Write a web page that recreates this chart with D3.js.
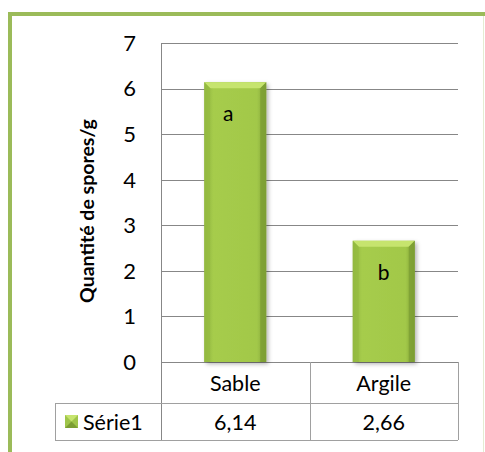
<!DOCTYPE html>
<html>
<head>
<meta charset="utf-8">
<script src="https://cdn.jsdelivr.net/npm/d3@7"></script>
<style>
  body { margin: 0; background: #fff; }
  text { font-family: Lato, "Open Sans", sans-serif; fill: #000; }
</style>
</head>
<body>
<div id="wrapper"></div>
<script>
// data
const categories = ["Sable", "Argile"]
const values = [6.14, 2.66]
const valueLabels = ["6,14", "2,66"]
const letters = ["a", "b"]
const seriesName = "Série1"
const yTicks = [0, 1, 2, 3, 4, 5, 6, 7]

const width = 485
const height = 452
const plot = { left: 161, right: 458, top: 43, bottom: 362 }

const svg = d3.select("#wrapper").append("svg")
    .attr("width", width)
    .attr("height", height)

// gradients for bars
const defs = svg.append("defs")
const grad = defs.append("linearGradient").attr("id", "barGrad")
    .attr("x1", 0).attr("x2", 1).attr("y1", 0).attr("y2", 0)
grad.append("stop").attr("offset", "0%").attr("stop-color", "#8fb43e")
grad.append("stop").attr("offset", "15%").attr("stop-color", "#a6cc4c")
grad.append("stop").attr("offset", "85%").attr("stop-color", "#a2c849")
grad.append("stop").attr("offset", "100%").attr("stop-color", "#7fa136")
const filt = defs.append("filter").attr("id", "shadow").attr("x", "-20%").attr("y", "-10%").attr("width", "150%").attr("height", "130%")
filt.append("feDropShadow").attr("dx", 2).attr("dy", 2).attr("stdDeviation", 2).attr("flood-color", "#000").attr("flood-opacity", 0.3)

// frame
svg.append("rect").attr("x", 10).attr("y", 14).attr("width", 490).attr("height", 460)
    .attr("fill", "none").attr("stroke", "#9bbb59").attr("stroke-width", 4)
svg.append("line").attr("x1", 483.5).attr("x2", 483.5).attr("y1", 16).attr("y2", height)
    .attr("stroke", "#e4ecd2").attr("stroke-width", 1)

// scales
const xScale = d3.scaleBand().domain(categories).range([plot.left, plot.right])
const yScale = d3.scaleLinear().domain([0, 7]).range([plot.bottom, plot.top])

// gridlines
svg.append("g").selectAll("line").data(yTicks).join("line")
    .attr("x1", plot.left).attr("x2", plot.right)
    .attr("y1", d => Math.round(yScale(d)) + 0.5).attr("y2", d => Math.round(yScale(d)) + 0.5)
    .attr("stroke", "#878787").attr("stroke-width", 1)

// y axis line
svg.append("line").attr("x1", plot.left + 0.5).attr("x2", plot.left + 0.5)
    .attr("y1", plot.top).attr("y2", 440)
    .attr("stroke", "#878787")

// y tick labels
svg.append("g").selectAll("text").data(yTicks).join("text")
    .attr("x", 136).attr("y", d => yScale(d))
    .attr("dy", "0.36em")
    .attr("text-anchor", "end")
    .style("font-size", "22px")
    .text(d => d)

// y title
svg.append("text")
    .attr("transform", `translate(94, 211) rotate(-90)`)
    .attr("text-anchor", "middle")
    .style("font-size", "19.5px")
    .style("font-weight", "bold")
    .text("Quantité de spores/g")

// bars
const barW = 62
const bars = svg.append("g").selectAll("g").data(categories).join("g")
bars.each(function (c, i) {
    const g = d3.select(this)
    const x0 = xScale(c) + xScale.bandwidth() / 2 - barW / 2
    const y0 = yScale(values[i])
    const y1 = yScale(0)
    const b = 6
    g.append("rect").attr("x", x0).attr("y", y0).attr("width", barW).attr("height", y1 - y0)
        .attr("fill", "url(#barGrad)").attr("filter", "url(#shadow)")
    // bevel top
    g.append("polygon")
        .attr("points", `${x0},${y0} ${x0 + barW},${y0} ${x0 + barW - b},${y0 + b} ${x0 + b},${y0 + b}`)
        .attr("fill", "#c6e46e")
    // bevel left
    g.append("polygon")
        .attr("points", `${x0},${y0} ${x0 + b},${y0 + b} ${x0 + b},${y1} ${x0},${y1}`)
        .attr("fill", "#94bb40").attr("opacity", 0.7)
    // bevel right
    g.append("polygon")
        .attr("points", `${x0 + barW},${y0} ${x0 + barW - b},${y0 + b} ${x0 + barW - b},${y1} ${x0 + barW},${y1}`)
        .attr("fill", "#7c9e33").attr("opacity", 0.8)
    g.append("text")
        .attr("x", x0 + barW / 2 - (i === 0 ? 7 : 0))
        .attr("y", y0 + 39)
        .attr("text-anchor", "middle")
        .style("font-size", "21px")
        .text(letters[i])
})

// data table
const tableStroke = "#a0a0a0"
const rowTop = plot.bottom, rowMid = 403, rowBot = 440, legLeft = 55
const table = svg.append("g").attr("fill", "none").attr("stroke", tableStroke)
table.append("line").attr("x1", plot.left).attr("x2", plot.right).attr("y1", rowMid + 0.5).attr("y2", rowMid + 0.5)
table.append("line").attr("x1", legLeft).attr("x2", plot.right).attr("y1", rowBot + 0.5).attr("y2", rowBot + 0.5)
table.append("line").attr("x1", legLeft).attr("x2", plot.left).attr("y1", rowMid + 0.5).attr("y2", rowMid + 0.5)
table.append("line").attr("x1", legLeft + 0.5).attr("x2", legLeft + 0.5).attr("y1", rowMid).attr("y2", rowBot)
categories.forEach(c => {
    const xr = Math.round(xScale(c) + xScale.bandwidth()) + 0.5
    table.append("line").attr("x1", xr).attr("x2", xr).attr("y1", rowTop).attr("y2", rowBot)
})

svg.append("g").selectAll("text").data(categories).join("text")
    .attr("x", d => xScale(d) + xScale.bandwidth() / 2)
    .attr("y", (rowTop + rowMid) / 2 + 1)
    .attr("dy", "0.36em")
    .attr("text-anchor", "middle")
    .style("font-size", "21.5px")
    .text(d => d)

svg.append("g").selectAll("text").data(valueLabels).join("text")
    .attr("x", (d, i) => xScale(categories[i]) + xScale.bandwidth() / 2)
    .attr("y", (rowMid + rowBot) / 2 + 1)
    .attr("dy", "0.36em")
    .attr("text-anchor", "middle")
    .style("font-size", "21.5px")
    .text(d => d)

// legend key
const kx = 65, ky = 415, ks = 13
svg.append("rect").attr("x", kx).attr("y", ky).attr("width", ks).attr("height", ks).attr("fill", "#9fc54a")
svg.append("polygon").attr("points", `${kx},${ky} ${kx + ks},${ky} ${kx + ks / 2},${ky + ks / 2}`).attr("fill", "#c6e46e")
svg.append("polygon").attr("points", `${kx},${ky + ks} ${kx + ks},${ky + ks} ${kx + ks / 2},${ky + ks / 2}`).attr("fill", "#7c9e33")
svg.append("text")
    .attr("x", 83).attr("y", (rowMid + rowBot) / 2 + 1)
    .attr("dy", "0.36em")
    .style("font-size", "21.5px")
    .text(seriesName)
</script>
</body>
</html>
